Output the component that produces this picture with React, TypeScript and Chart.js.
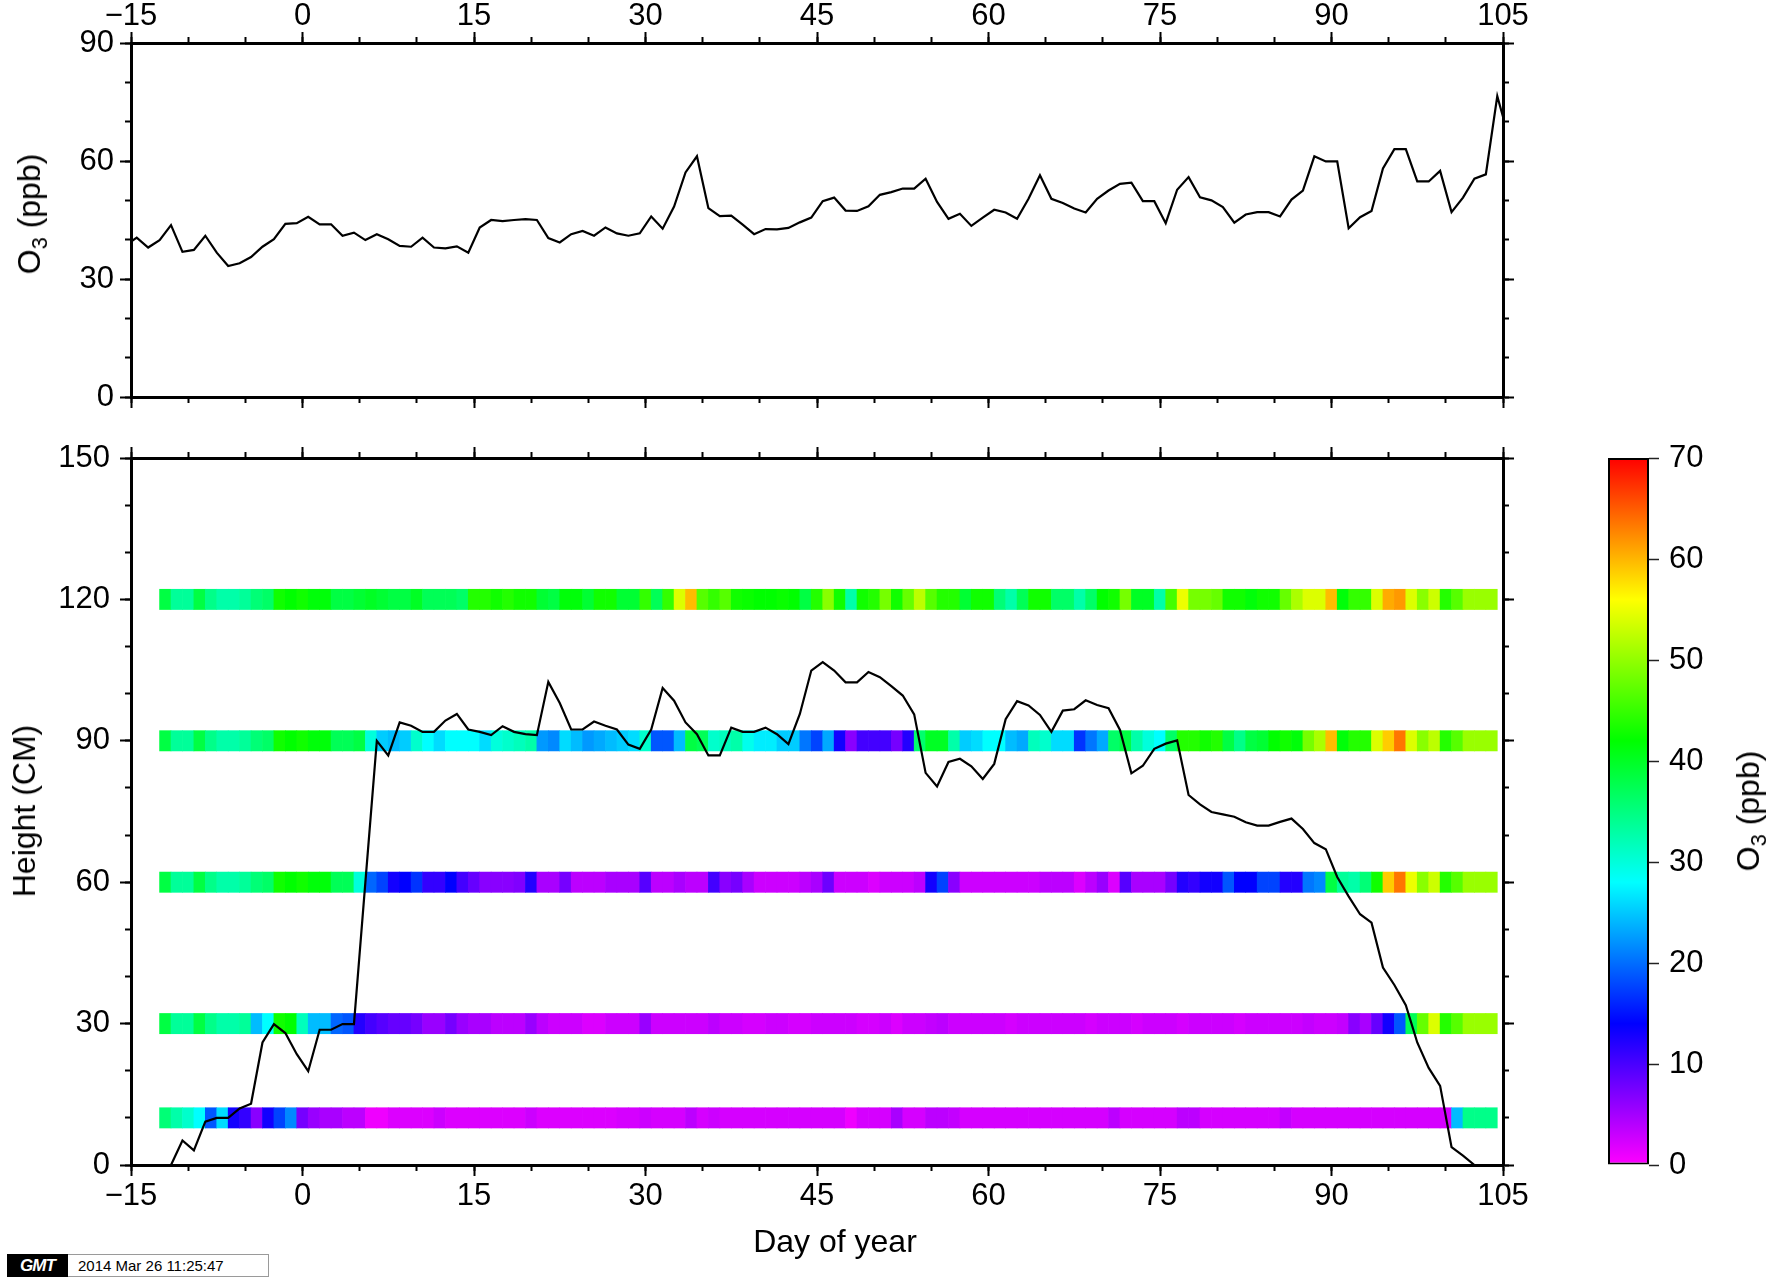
import React, { useEffect, useRef } from 'react';
import { Chart, registerables } from 'chart.js';

Chart.register(...registerables);

const FONT = "'Liberation Sans', Arial, Helvetica, sans-serif";

// ---------- tick labels ----------
const dayTicks = [-15, 0, 15, 30, 45, 60, 75, 90, 105];
const o3AxisTicks = [0, 30, 60, 90];
const heightTicks = [0, 30, 60, 90, 120, 150];
const colorbarTicks = [0, 10, 20, 30, 40, 50, 60, 70];

// ---------- top panel: daily O3 (points plotted at day + 0.5) ----------
const o3FirstDay = -15.5;
const o3Values = [
  38.5, 40.5, 38.0, 39.9, 43.7, 36.9, 37.4, 41.0, 36.7, 33.3,
  34.0, 35.6, 38.2, 40.1, 44.0, 44.2, 45.8, 43.9, 43.9, 41.0,
  41.8, 39.9, 41.4, 40.1, 38.4, 38.2, 40.5, 38.0, 37.8, 38.3,
  36.7, 43.1, 45.0, 44.7, 45.0, 45.2, 45.0, 40.4, 39.3, 41.4,
  42.2, 41.0, 43.1, 41.6, 41.0, 41.6, 45.9, 42.8, 48.4, 57.1,
  61.2, 48.0, 46.0, 46.1, 43.8, 41.4, 42.7, 42.6, 43.0, 44.4,
  45.6, 49.8, 50.7, 47.4, 47.3, 48.5, 51.4, 52.1, 53.0, 53.0,
  55.5, 49.6, 45.3, 46.6, 43.5, 45.6, 47.6, 46.9, 45.3, 50.4,
  56.4, 50.4, 49.3, 47.9, 46.9, 50.4, 52.5, 54.2, 54.5, 49.8,
  49.8, 44.2, 52.7, 55.9, 50.8, 50.0, 48.3, 44.3, 46.4, 47.0,
  47.0, 45.9, 50.2, 52.5, 61.2, 59.9, 59.9, 42.9, 45.7, 47.3,
  58.1, 63.0, 63.0, 54.8, 54.8, 57.5, 47.0, 50.7, 55.5, 56.6,
  76.5, 66.0,
];

// ---------- bottom panel: snow depth (cm), same day axis ----------
const snowFirstDay = -15.5;
const snowDepth = [
  0, 0, 0, 0, 0, 5.2, 3.1, 9.2, 10.0, 10.0,
  12.0, 13.0, 26.0, 29.9, 28.0, 23.5, 19.9, 28.7, 28.7, 29.9,
  29.9, 60.0, 90.0, 86.9, 93.9, 93.2, 91.9, 91.9, 94.3, 95.7,
  92.4, 91.9, 91.2, 93.1, 91.9, 91.4, 91.2, 102.5, 98.0, 92.4,
  92.4, 94.1, 93.2, 92.4, 89.2, 88.3, 92.4, 101.2, 98.5, 93.9,
  91.4, 86.9, 86.9, 92.8, 91.9, 91.9, 92.8, 91.4, 89.3, 95.7,
  104.9, 106.7, 104.9, 102.4, 102.4, 104.6, 103.5, 101.6, 99.6, 95.6,
  83.2, 80.3, 85.5, 86.2, 84.6, 81.9, 85.1, 94.6, 98.4, 97.5,
  95.5, 91.9, 96.4, 96.7, 98.6, 97.6, 96.9, 92.3, 83.1, 84.7,
  88.3, 89.4, 90.1, 78.5, 76.5, 74.9, 74.4, 73.9, 72.7, 72.0,
  72.0, 72.8, 73.5, 71.3, 68.3, 67.0, 61.1, 57.0, 53.2, 51.4,
  41.9, 38.2, 33.9, 26.0, 20.6, 16.8, 3.8, 2.0, 0, 0,
  0, 0,
];

// ---------- bottom panel: O3 (ppb) at inlet heights, one cell per day ----------
const cellFirstDay = -12;
const stripHalfHeight = 2.15;
const inletHeights = [120, 90, 60, 30, 10];

const o3At120 = [
  38.3, 33.6, 33.6, 38.3, 34.5, 32.7, 32.7, 33.6, 35.5, 36.4,
  42.9, 42.0, 42.9, 41.5, 41.5, 38.3, 38.3, 39.2, 40.0, 39.2,
  38.3, 38.3, 40.0, 37.3, 37.3, 37.3, 36.4, 43.9, 43.9, 42.9,
  43.9, 42.9, 42.9, 39.2, 38.3, 41.5, 41.5, 39.2, 42.9, 42.9,
  39.2, 39.2, 44.8, 37.3, 44.8, 54.1, 59.7, 46.7, 44.8, 46.7,
  42.9, 42.5, 42.0, 42.0, 42.5, 42.0, 38.3, 43.9, 49.5, 42.9,
  32.7, 42.9, 43.9, 48.5, 42.9, 47.6, 52.3, 46.7, 43.9, 43.9,
  39.2, 42.9, 42.9, 35.5, 32.7, 37.3, 42.9, 42.9, 36.4, 36.4,
  32.7, 36.4, 42.0, 42.9, 48.5, 40.0, 40.0, 32.7, 45.8, 55.0,
  48.5, 48.5, 47.6, 42.9, 42.9, 41.5, 42.9, 42.9, 47.6, 51.4,
  54.1, 54.1, 59.7, 41.5, 44.8, 44.8, 54.1, 60.6, 61.6, 54.1,
  49.5, 53.2, 43.9, 46.7, 50.4, 50.4, 50.4,
];

const o3At90 = [
  38.3, 33.6, 33.6, 38.3, 34.5, 32.7, 32.7, 33.6, 35.5, 36.4,
  42.9, 42.0, 42.9, 41.5, 41.5, 37.3, 37.3, 38.3, 29.9, 25.2,
  24.3, 25.2, 30.8, 28.0, 26.1, 28.0, 28.0, 28.0, 26.1, 29.9,
  30.8, 31.7, 32.7, 22.4, 21.5, 26.1, 24.3, 22.4, 23.3, 24.3,
  25.2, 26.1, 30.8, 18.7, 18.7, 24.3, 38.3, 37.3, 30.8, 31.7,
  32.7, 29.0, 27.0, 27.0, 25.2, 25.2, 20.5, 17.7, 23.3, 13.0,
  6.5, 10.3, 10.3, 10.3, 7.5, 12.1, 36.0, 40.0, 40.0, 32.7,
  25.2, 26.1, 28.0, 28.0, 24.3, 23.3, 31.7, 30.8, 26.1, 26.1,
  16.8, 20.5, 23.3, 36.4, 38.3, 32.7, 29.9, 28.0, 36.4, 43.9,
  43.9, 42.9, 43.9, 38.3, 34.5, 38.3, 39.2, 42.0, 42.9, 41.5,
  48.5, 51.4, 59.7, 41.5, 43.9, 43.9, 54.1, 58.8, 63.5, 54.1,
  49.5, 52.3, 43.9, 46.7, 50.4, 50.4, 50.4,
];

const o3At60 = [
  38.3, 33.6, 33.6, 38.3, 34.5, 32.7, 32.7, 33.6, 35.5, 36.4,
  42.9, 42.0, 42.9, 41.5, 41.5, 37.3, 37.3, 29.9, 19.6, 17.7,
  13.0, 14.0, 16.8, 11.2, 11.2, 14.0, 10.3, 8.4, 6.5, 6.5,
  6.5, 7.0, 12.1, 4.7, 4.7, 7.5, 3.7, 3.7, 3.7, 4.7,
  4.7, 4.7, 9.3, 3.7, 3.7, 4.7, 3.7, 3.7, 10.3, 6.5,
  7.5, 4.7, 2.8, 2.8, 2.8, 2.8, 3.7, 4.7, 8.0, 2.8,
  2.8, 2.8, 1.9, 2.8, 2.8, 2.8, 3.7, 13.0, 17.7, 6.5,
  2.8, 2.8, 2.8, 2.8, 2.8, 2.8, 2.8, 3.7, 3.7, 3.7,
  1.9, 3.7, 5.6, 1.9, 9.3, 4.7, 4.7, 4.7, 7.5, 12.1,
  11.2, 13.0, 13.0, 18.7, 14.0, 14.0, 17.7, 17.7, 12.1, 12.1,
  20.5, 21.5, 38.3, 33.6, 32.7, 35.5, 42.9, 58.8, 63.5, 55.0,
  49.5, 53.2, 43.9, 46.7, 50.4, 50.4, 50.4,
];

const o3At30 = [
  38.3, 33.6, 33.6, 38.3, 34.5, 32.7, 32.7, 33.6, 24.3, 28.0,
  42.9, 42.0, 31.7, 24.3, 24.3, 19.6, 18.7, 12.1, 10.3, 9.3,
  8.4, 8.4, 7.5, 5.6, 5.6, 7.5, 5.6, 4.7, 4.7, 3.7,
  3.7, 3.7, 5.6, 3.7, 2.8, 2.8, 2.8, 1.9, 1.9, 2.8,
  2.8, 2.8, 5.6, 2.8, 2.8, 2.8, 2.8, 2.8, 3.7, 2.8,
  2.8, 2.3, 2.3, 2.8, 2.8, 2.3, 2.3, 2.8, 2.8, 2.8,
  2.8, 2.3, 2.3, 2.8, 1.9, 2.8, 2.8, 3.3, 3.7, 2.8,
  2.8, 2.8, 2.8, 2.8, 2.3, 2.8, 2.8, 2.8, 2.8, 2.8,
  2.8, 2.3, 2.8, 2.8, 2.8, 2.3, 2.8, 2.8, 2.8, 2.3,
  2.8, 2.8, 2.8, 2.8, 2.3, 2.8, 2.8, 2.8, 2.8, 2.8,
  3.3, 2.8, 2.8, 3.3, 6.5, 4.7, 8.4, 13.0, 18.7, 37.3,
  47.6, 54.1, 43.9, 46.7, 50.4, 50.4, 50.4,
];

const o3At10 = [
  35.5, 32.7, 30.8, 28.0, 18.7, 26.1, 13.0, 11.2, 6.5, 13.0,
  17.7, 21.5, 7.5, 5.6, 4.7, 4.7, 3.7, 3.7, 0.9, 0.9,
  1.9, 1.9, 1.9, 1.9, 2.8, 1.9, 1.9, 1.9, 1.9, 1.9,
  1.9, 1.9, 2.8, 1.9, 1.9, 1.9, 1.9, 1.9, 1.9, 1.9,
  2.3, 2.3, 2.8, 2.3, 2.3, 2.3, 3.7, 2.3, 2.8, 2.3,
  2.3, 2.3, 2.3, 2.3, 2.3, 2.3, 2.3, 2.3, 2.3, 2.3,
  0.9, 2.3, 2.3, 2.3, 4.7, 2.3, 2.3, 3.7, 3.7, 3.3,
  2.3, 2.3, 2.3, 2.3, 2.3, 2.3, 2.3, 2.3, 2.3, 2.3,
  2.3, 2.3, 2.3, 3.7, 2.3, 2.3, 2.3, 2.3, 2.3, 3.7,
  3.7, 2.3, 2.3, 2.3, 2.3, 2.3, 2.3, 2.3, 3.3, 2.3,
  2.3, 2.3, 2.3, 2.3, 2.3, 2.3, 2.3, 2.3, 2.3, 2.3,
  2.3, 2.3, 2.3, 24.3, 34.5, 34.5, 34.5,
];

const stripValues = [o3At120, o3At90, o3At60, o3At30, o3At10];

// ---------- colour scale (GMT rainbow, 0-70 ppb) ----------
const CMIN = 0;
const CMAX = 70;
const colorbarStops = [0, 14, 28, 42, 56, 70];

function heat(v: number): string {
  const c = Math.max(CMIN, Math.min(CMAX, v));
  const hue = 300 * (1 - (c - CMIN) / (CMAX - CMIN));
  return `hsl(${hue.toFixed(2)}, 100%, 50%)`;
}

function fmtDay(v: number | string): string {
  const n = Number(v);
  return n < 0 ? '\u2212' + Math.abs(n) : String(n);
}

function rangeTicks(a: number, b: number, step: number) {
  const out: { value: number }[] = [];
  for (let v = a; v <= b + 1e-9; v += step) out.push({ value: v });
  return out;
}

const tickFont = { family: FONT, size: 31 };

function panelScales(o: {
  yMax: number;
  yMajor: number[];
  yMinorStep: number;
  topSize: number;
  bottomSize: number;
  topLabels: boolean;
  bottomLabels: boolean;
  leftPad: number;
}) {
  const frame = { display: true, width: 3, color: '#000' };
  const noFrame = { display: false };
  const grid = (len: number) => ({
    drawOnChartArea: false,
    drawTicks: true,
    tickLength: len,
    tickWidth: 2,
    tickColor: '#000',
    offset: false,
  });
  const xBase = { type: 'linear', min: -15, max: 105, offset: false };
  const yBase = { type: 'linear', min: 0, max: o.yMax, offset: false };
  const major = (vals: number[]) => (s: any) => {
    s.ticks = vals.map((v) => ({ value: v }));
  };
  return {
    x: {
      ...xBase,
      position: 'bottom',
      weight: 2,
      border: frame,
      grid: grid(11),
      afterBuildTicks: major(dayTicks),
      ticks: {
        display: o.bottomLabels,
        font: tickFont,
        color: '#000',
        padding: 2,
        autoSkip: false,
        maxRotation: 0,
        minRotation: 0,
        callback: fmtDay,
      },
      afterFit: (s: any) => {
        s.height = o.bottomSize;
      },
    },
    xMinorB: {
      ...xBase,
      position: 'bottom',
      weight: 0,
      border: noFrame,
      grid: grid(6),
      afterBuildTicks: (s: any) => {
        s.ticks = rangeTicks(-15, 105, 5);
      },
      ticks: { display: false },
      afterFit: (s: any) => {
        s.height = 0;
      },
    },
    xTop: {
      ...xBase,
      position: 'top',
      weight: 2,
      border: frame,
      grid: grid(11),
      afterBuildTicks: major(dayTicks),
      ticks: {
        display: o.topLabels,
        font: tickFont,
        color: '#000',
        padding: -3,
        autoSkip: false,
        maxRotation: 0,
        minRotation: 0,
        callback: fmtDay,
      },
      afterFit: (s: any) => {
        s.height = o.topSize;
      },
    },
    xMinorT: {
      ...xBase,
      position: 'top',
      weight: 0,
      border: noFrame,
      grid: grid(6),
      afterBuildTicks: (s: any) => {
        s.ticks = rangeTicks(-15, 105, 5);
      },
      ticks: { display: false },
      afterFit: (s: any) => {
        s.height = 0;
      },
    },
    y: {
      ...yBase,
      position: 'left',
      weight: 2,
      border: frame,
      grid: grid(11),
      afterBuildTicks: major(o.yMajor),
      ticks: {
        font: tickFont,
        color: '#000',
        padding: o.leftPad,
        autoSkip: false,
      },
      afterFit: (s: any) => {
        s.width = 131;
      },
    },
    yMinorL: {
      ...yBase,
      position: 'left',
      weight: 0,
      border: noFrame,
      grid: grid(6),
      afterBuildTicks: (s: any) => {
        s.ticks = rangeTicks(0, o.yMax, o.yMinorStep);
      },
      ticks: { display: false },
      afterFit: (s: any) => {
        s.width = 0;
      },
    },
    yRight: {
      ...yBase,
      position: 'right',
      weight: 2,
      border: frame,
      grid: grid(11),
      afterBuildTicks: major(o.yMajor),
      ticks: { display: false },
      afterFit: (s: any) => {
        s.width = 57;
      },
    },
    yMinorR: {
      ...yBase,
      position: 'right',
      weight: 0,
      border: noFrame,
      grid: grid(6),
      afterBuildTicks: (s: any) => {
        s.ticks = rangeTicks(0, o.yMax, o.yMinorStep);
      },
      ticks: { display: false },
      afterFit: (s: any) => {
        s.width = 0;
      },
    },
  };
}

const basePlugins = {
  legend: { display: false },
  tooltip: { enabled: false },
  title: { display: false },
};

function RotLabel(props: { x: number; y: number; children: React.ReactNode }) {
  return (
    <div
      style={{
        position: 'absolute',
        left: props.x,
        top: props.y,
        transform: 'translate(-50%, -50%) rotate(-90deg)',
        whiteSpace: 'nowrap',
        fontFamily: FONT,
        fontSize: 32,
        color: '#000',
        lineHeight: 1,
      }}
    >
      {props.children}
    </div>
  );
}

function O3Text() {
  return (
    <span>
      O<span style={{ fontSize: '0.68em', position: 'relative', top: '0.3em' }}>3</span> (ppb)
    </span>
  );
}

export default function App() {
  const topRef = useRef<HTMLCanvasElement | null>(null);
  const botRef = useRef<HTMLCanvasElement | null>(null);
  const barRef = useRef<HTMLCanvasElement | null>(null);

  useEffect(() => {
    Chart.defaults.font.family = FONT;
    Chart.defaults.color = '#000';

    const topChart = new Chart(topRef.current as HTMLCanvasElement, {
      type: 'line',
      data: {
        datasets: [
          {
            label: 'O3',
            data: o3Values.map((v, i) => ({ x: o3FirstDay + i, y: v })),
            borderColor: '#000',
            borderWidth: 2.2,
            pointRadius: 0,
            fill: false,
            tension: 0,
          },
        ],
      },
      options: {
        responsive: false,
        animation: false,
        events: [],
        layout: { padding: 0 },
        plugins: basePlugins,
        scales: panelScales({
          yMax: 90,
          yMajor: o3AxisTicks,
          yMinorStep: 10,
          topSize: 43,
          bottomSize: 43,
          topLabels: true,
          bottomLabels: false,
          leftPad: 6,
        }) as any,
      },
    } as any);

    const stripDatasets = inletHeights.map((h, k) => ({
      type: 'bar',
      label: `${h} cm`,
      data: stripValues[k].map((v, i) => ({
        x: cellFirstDay + i,
        y: [h - stripHalfHeight, h + stripHalfHeight],
      })),
      backgroundColor: stripValues[k].map((v) => heat(v)),
      borderWidth: 0,
      grouped: false,
      barPercentage: 1,
      categoryPercentage: 1,
      order: 2,
    }));

    const botChart = new Chart(botRef.current as HTMLCanvasElement, {
      type: 'bar',
      data: {
        datasets: [
          {
            type: 'line',
            label: 'Snow depth',
            data: snowDepth.map((v, i) => ({ x: snowFirstDay + i, y: v })),
            borderColor: '#000',
            borderWidth: 2.2,
            pointRadius: 0,
            fill: false,
            tension: 0,
            order: 1,
          },
          ...stripDatasets,
        ],
      },
      options: {
        responsive: false,
        animation: false,
        events: [],
        layout: { padding: 0 },
        plugins: basePlugins,
        scales: panelScales({
          yMax: 150,
          yMajor: heightTicks,
          yMinorStep: 10,
          topSize: 58,
          bottomSize: 115,
          topLabels: false,
          bottomLabels: true,
          leftPad: 10,
        }) as any,
      },
    } as any);

    const barChart = new Chart(barRef.current as HTMLCanvasElement, {
      type: 'bar',
      data: {
        labels: [''],
        datasets: [
          {
            label: 'colour scale',
            data: [[CMIN, CMAX]],
            backgroundColor: (ctx: any) => {
              const chart = ctx.chart;
              const area = chart.chartArea;
              if (!area) return heat(0);
              const y0 = chart.scales.y.getPixelForValue(CMIN);
              const y1 = chart.scales.y.getPixelForValue(CMAX);
              const g = chart.ctx.createLinearGradient(0, y0, 0, y1);
              colorbarStops.forEach((v) => g.addColorStop((v - CMIN) / (CMAX - CMIN), heat(v)));
              return g;
            },
            borderColor: '#000',
            borderWidth: 2,
            borderSkipped: false,
            barPercentage: 1,
            categoryPercentage: 1,
            inflateAmount: 0,
          },
        ],
      },
      options: {
        responsive: false,
        animation: false,
        events: [],
        layout: { padding: { left: 48, right: 0, top: 58, bottom: 115 } },
        plugins: basePlugins,
        scales: {
          x: { display: false },
          y: {
            type: 'linear',
            position: 'right',
            min: CMIN,
            max: CMAX,
            border: { display: false },
            grid: {
              drawOnChartArea: false,
              drawTicks: true,
              tickLength: 10,
              tickWidth: 1.5,
              tickColor: '#222',
            },
            afterBuildTicks: (s: any) => {
              s.ticks = colorbarTicks.map((v) => ({ value: v }));
            },
            ticks: { font: tickFont, color: '#000', padding: 10, autoSkip: false },
            afterFit: (s: any) => {
              s.width = 128;
            },
          },
        },
      },
    } as any);

    return () => {
      topChart.destroy();
      botChart.destroy();
      barChart.destroy();
    };
  }, []);

  return (
    <div
      style={{
        position: 'absolute',
        left: 0,
        top: 0,
        width: 1777,
        height: 1280,
        background: '#fff',
        overflow: 'hidden',
        fontFamily: FONT,
      }}
    >
      <canvas
        ref={topRef}
        width={1560}
        height={440}
        style={{ position: 'absolute', left: 0, top: 0, width: 1560, height: 440 }}
      />
      <canvas
        ref={botRef}
        width={1560}
        height={880}
        style={{ position: 'absolute', left: 0, top: 400, width: 1560, height: 880 }}
      />
      <canvas
        ref={barRef}
        width={217}
        height={880}
        style={{ position: 'absolute', left: 1560, top: 400, width: 217, height: 880 }}
      />

      <RotLabel x={29} y={214}>
        <O3Text />
      </RotLabel>
      <RotLabel x={24} y={811}>
        Height (CM)
      </RotLabel>
      <RotLabel x={1748} y={811}>
        <O3Text />
      </RotLabel>
      <div
        style={{
          position: 'absolute',
          left: 835,
          top: 1241,
          transform: 'translate(-50%, -50%)',
          whiteSpace: 'nowrap',
          fontFamily: FONT,
          fontSize: 32,
          lineHeight: 1,
          color: '#000',
        }}
      >
        Day of year
      </div>

      <div
        style={{
          position: 'absolute',
          left: 7,
          top: 1254,
          height: 23,
          display: 'flex',
          fontFamily: FONT,
        }}
      >
        <div
          style={{
            width: 61,
            height: 23,
            background: '#000',
            color: '#fff',
            fontWeight: 'bold',
            fontStyle: 'italic',
            fontSize: 17,
            lineHeight: '23px',
            textAlign: 'center',
            letterSpacing: -1,
          }}
        >
          GMT
        </div>
        <div
          style={{
            width: 201,
            height: 23,
            boxSizing: 'border-box',
            border: '1px solid #9a9a9a',
            borderLeft: 'none',
            fontSize: 15,
            lineHeight: '21px',
            paddingLeft: 10,
            color: '#000',
            background: '#fff',
          }}
        >
          2014 Mar 26 11:25:47
        </div>
      </div>
    </div>
  );
}
